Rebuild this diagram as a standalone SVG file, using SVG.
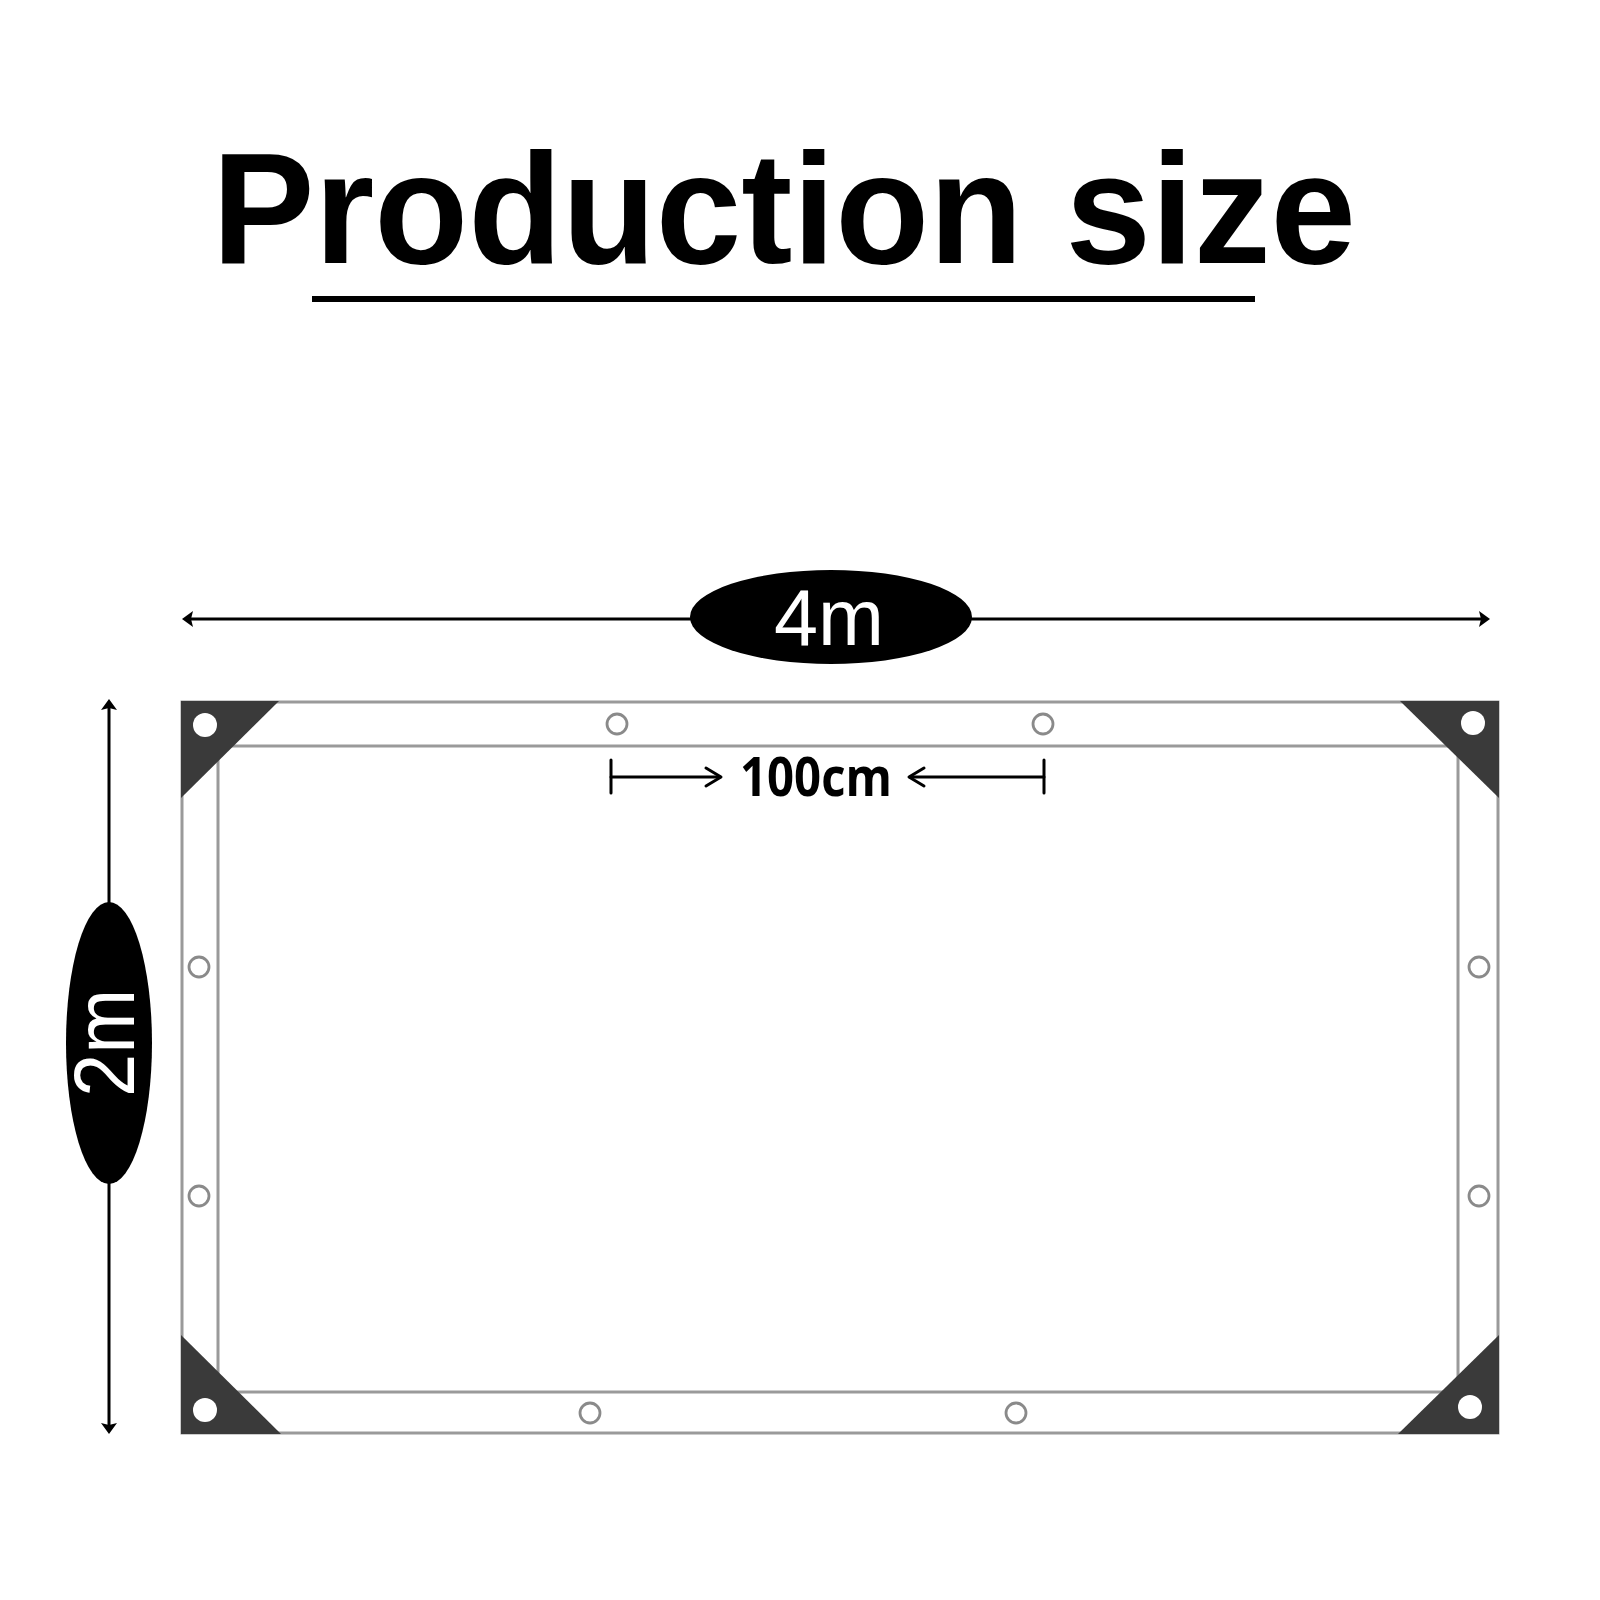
<svg xmlns="http://www.w3.org/2000/svg" width="1600" height="1600" viewBox="0 0 1600 1600">
<style>
.title{font-family:"Liberation Sans",Arial,sans-serif;font-weight:bold;fill:#000}
.lbl{font-family:"Liberation Sans",Arial,sans-serif;fill:#fff}
.cm{font-family:"Open Sans","Liberation Sans",sans-serif;font-weight:bold;fill:#000}
.edge{stroke:#9a9a9a;stroke-width:3;fill:none}
.grom{stroke:#8a8a8a;stroke-width:2.8;fill:#fff}
.corner{fill:#3a3a3a}
.hole{fill:#fff}
.dim{stroke:#000;stroke-width:3;fill:none}
.arr{stroke:#000;stroke-width:3;fill:none;stroke-linecap:round;stroke-linejoin:round}
</style>
<rect width="1600" height="1600" fill="#fff"/>
<g id="title">
<text class="title" x="212" y="263" font-size="158" textLength="1144" lengthAdjust="spacingAndGlyphs">Production size</text>
<rect x="312" y="296" width="943" height="6" fill="#000"/>
</g>
<g id="tarp">
<rect class="edge" x="182" y="702" width="1316" height="731"/>
<rect class="edge" x="218" y="746" width="1240" height="646"/>
<polygon class="corner" points="181,701 279,701 181,798"/>
<circle class="hole" cx="205" cy="725" r="12"/>
<polygon class="corner" points="1400,701 1499,701 1499,798"/>
<circle class="hole" cx="1473" cy="723" r="12"/>
<polygon class="corner" points="181,1335 181,1434 281,1434"/>
<circle class="hole" cx="205" cy="1410" r="12"/>
<polygon class="corner" points="1499,1335 1499,1434 1398,1434"/>
<circle class="hole" cx="1470" cy="1407" r="12"/>
<circle class="grom" cx="617" cy="724" r="10"/>
<circle class="grom" cx="1043" cy="724" r="10"/>
<circle class="grom" cx="590" cy="1413" r="10"/>
<circle class="grom" cx="1016" cy="1413" r="10"/>
<circle class="grom" cx="199" cy="967" r="10"/>
<circle class="grom" cx="199" cy="1196" r="10"/>
<circle class="grom" cx="1479" cy="967" r="10"/>
<circle class="grom" cx="1479" cy="1196" r="10"/>
</g>
<g id="connectors">
<line class="dim" x1="190" y1="619" x2="1482" y2="619"/>
<polygon points="182,619 193,611 191,619 193,627" fill="#000"/>
<polygon points="1490,619 1479,611 1481,619 1479,627" fill="#000"/>
<line class="dim" x1="109" y1="707" x2="109" y2="1426"/>
<polygon points="109,699 101,710 109,708 117,710" fill="#000"/>
<polygon points="109,1434 101,1423 109,1425 117,1423" fill="#000"/>
<line class="arr" x1="611" y1="760" x2="611" y2="793"/>
<line class="arr" x1="611" y1="777" x2="720" y2="777"/>
<polyline class="arr" points="706,768 721,777 706,786"/>
<line class="arr" x1="1044" y1="760" x2="1044" y2="793"/>
<line class="arr" x1="910" y1="777" x2="1044" y2="777"/>
<polyline class="arr" points="924,768 909,777 924,786"/>
</g>
<g id="label-4m">
<ellipse cx="831" cy="617" rx="141" ry="47" fill="#000"/>
<text class="lbl" x="829" y="645" font-size="80" text-anchor="middle" textLength="110" lengthAdjust="spacingAndGlyphs">4m</text>
</g>
<g id="label-2m">
<ellipse cx="109" cy="1043" rx="43" ry="141" fill="#000"/>
<text class="lbl" transform="translate(134 1043) rotate(-90)" x="0" y="0" font-size="86" text-anchor="middle" textLength="108" lengthAdjust="spacingAndGlyphs">2m</text>
</g>
<g id="label-100cm">
<text class="cm" x="740" y="796" font-size="53" textLength="152" lengthAdjust="spacingAndGlyphs">100cm</text>
</g>
</svg>
